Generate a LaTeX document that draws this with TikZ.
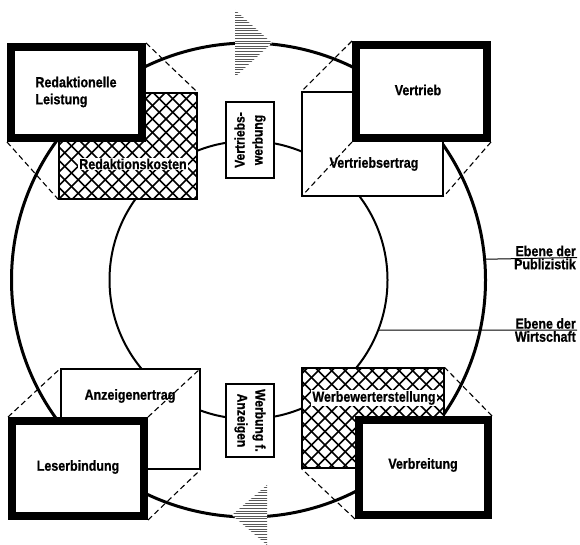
\documentclass[tikz,border=0pt]{standalone}
\usepackage{fontspec}
\setmainfont{Liberation Sans}
\newfontfamily\condfont{Liberation Sans}[UprightFont={* Bold}, FakeStretch=0.86, FakeBold=0.8]
\begin{document}
\begin{tikzpicture}[x=1pt,y=-1pt,
  lbl/.style={font=\condfont\fontsize{14.5}{17}\selectfont, inner sep=1pt},
  smalllbl/.style={font=\condfont\fontsize{14}{18}\selectfont, inner sep=1pt},
  thickbox/.style={draw, fill=white, line width=8pt, inner sep=0pt},
  thinbox/.style={draw, fill=white, line width=1.2pt, inner sep=0pt},
  smallbox/.style={draw, fill=white, line width=1.2pt, inner sep=0pt},
  proj/.style={line width=1.1pt, dash pattern=on 5.5pt off 3.5pt},
  hatchline/.style={line width=1.6pt},
  arrowline/.style={line width=1pt, gray!70!black},
  levelline/.style={line width=1pt}]
\useasboundingbox (0,0) rectangle (580,545);
\fill[white] (0,0) rectangle (580,545);

% circles
\node[circle, draw, line width=3pt, minimum size=474pt, inner sep=0pt] (outer) at (248.5,280) {};
\node[circle, draw, line width=2pt, minimum size=278pt, inner sep=0pt] (inner) at (248.5,280) {};

% hatched arrows
\begin{scope}
  \clip (235,10) -- (235,77) -- (272,43) -- cycle;
  \fill[white] (235,10) -- (235,77) -- (272,43) -- cycle;
  \foreach \yy in {10,12.6,...,78} {\draw[arrowline] (230,\yy) -- (280,\yy);}
\end{scope}
\begin{scope}
  \clip (267,485) -- (267,545) -- (232,515) -- cycle;
  \fill[white] (267,485) -- (267,545) -- (232,515) -- cycle;
  \foreach \yy in {485,487.6,...,546} {\draw[arrowline] (225,\yy) -- (275,\yy);}
\end{scope}

% back boxes
\node[thinbox, minimum width=138pt, minimum height=106pt] (rk) at (128,146) {};
\begin{scope}
  \clip (59,93) rectangle (197,199);
  \foreach \k in {-121.5,-108,...,150} {
    \draw[hatchline] ({59+\k},93) -- ++(120,120);
    \draw[hatchline] ({59+\k},199) -- ++(120,-120);
  }
\end{scope}
\node[lbl, fill=white] (rkt) at (133,164) {Redaktionskosten};

\node[thinbox, minimum width=141pt, minimum height=104pt] (ve) at (372.5,144) {};
\node[lbl] (vet) at (374,164) {Vertriebsertrag};

\node[thinbox, minimum width=139pt, minimum height=100pt] (ae) at (130.5,419) {};
\node[lbl] (aet) at (130,396) {Anzeigenertrag};

\node[thinbox, minimum width=142pt, minimum height=100pt] (ww) at (373,418) {};
\begin{scope}
  \clip (302,368) rectangle (444,468);
  \foreach \k in {-121.5,-108,...,150} {
    \draw[hatchline] ({302+\k},368) -- ++(120,120);
    \draw[hatchline] ({302+\k},468) -- ++(120,-120);
  }
\end{scope}
\node[lbl, fill=white] (wwt) at (374,398) {Werbewerterstellung};

% small boxes
\node[smallbox, minimum width=48pt, minimum height=76pt] (vw) at (250,140) {};
\node[smalllbl, rotate=90, align=center] (vwt) at (vw) {Vertriebs-\\werbung};
\node[smallbox, minimum width=48pt, minimum height=73pt] (wa) at (250,420.5) {};
\node[smalllbl, rotate=-90, align=center] (wat) at (wa) {Werbung f.\\Anzeigen};

% thick boxes
\node[thickbox, minimum width=131pt, minimum height=91pt] (red) at (76.5,92.5) {};
\node[lbl, align=left] (redt) at (76,92) {Redaktionelle\\Leistung};
\node[thickbox, minimum width=131pt, minimum height=93pt] (vt) at (421.5,91.5) {};
\node[lbl] (vtt) at (418,90) {Vertrieb};
\node[thickbox, minimum width=132pt, minimum height=95pt] (lb) at (78,468.5) {};
\node[lbl] (lbt) at (78,467) {Leserbindung};
\node[thickbox, minimum width=129pt, minimum height=95pt] (vb) at (423.5,467.5) {};
\node[lbl] (vbt) at (423,465) {Verbreitung};

% projection lines
\draw[proj] (red.north east) -- (rk.north east);
\draw[proj] (red.south west) -- (rk.south west);
\draw[proj] (vt.north west) -- (ve.north west);
\draw[proj] (vt.south west) -- (ve.south west);
\draw[proj] (vt.south east) -- (ve.south east);
\draw[proj] (lb.north west) -- (ae.north west);
\draw[proj] (lb.north east) -- (ae.north east);
\draw[proj] (lb.south east) -- (ae.south east);
\draw[proj] (vb.north east) -- (ww.north east);
\draw[proj] (vb.south west) -- (ww.south west);

% levels
\coordinate (pubend) at (577,257.5);
\draw[levelline] (outer.5.5) -- (pubend);
\node[lbl, anchor=south east] (pub1) at (pubend) {Ebene der};
\node[lbl, anchor=north east] (pub2) at (pubend) {Publizistik};
\coordinate (wiend) at (577,330);
\draw[levelline] (inner.-21.1) -- (wiend);
\node[lbl, anchor=south east] (wi1) at (wiend) {Ebene der};
\node[lbl, anchor=north east] (wi2) at (wiend) {Wirtschaft};
\end{tikzpicture}
\end{document}
